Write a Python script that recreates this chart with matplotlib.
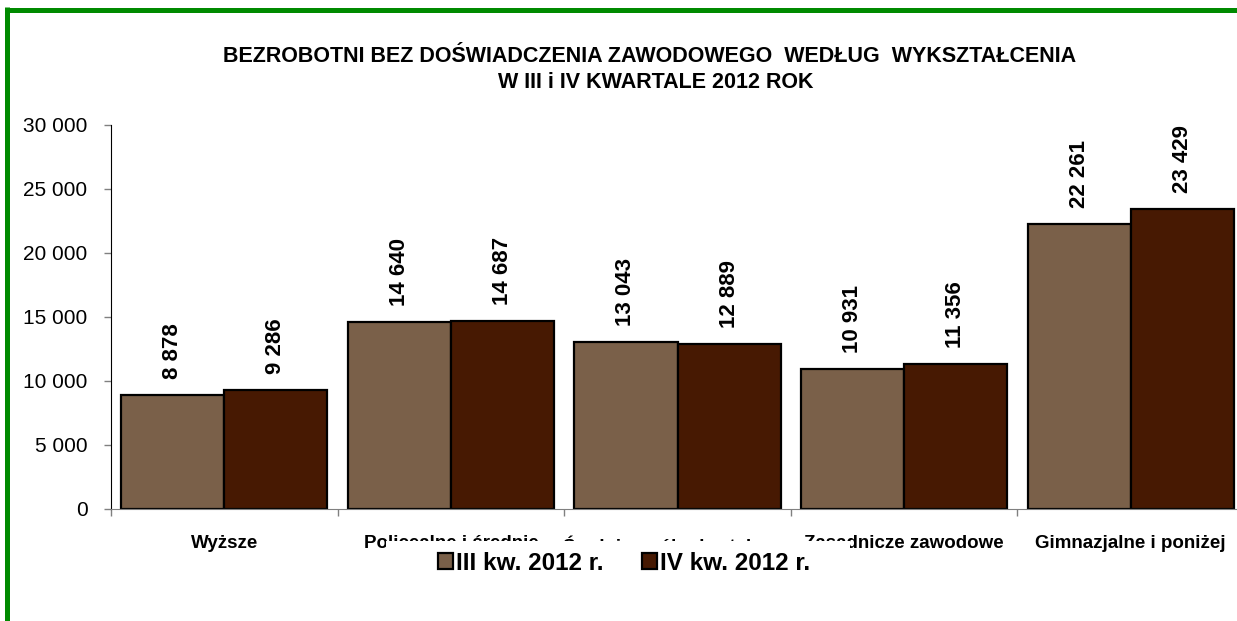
import matplotlib
matplotlib.use("Agg")
from matplotlib import pyplot as plt
from matplotlib.lines import Line2D
from matplotlib.patches import Rectangle
from matplotlib.ticker import FuncFormatter, FixedLocator
import numpy as np

plt.rcParams['font.family'] = ['Liberation Sans', 'DejaVu Sans']

categories = ["Wyższe", "Policealne i średnie", "Średnie ogólnokształcące",
              "Zasadnicze zawodowe", "Gimnazjalne i poniżej"]
q3_2012 = [8878, 14640, 13043, 10931, 22261]
q4_2012 = [9286, 14687, 12889, 11356, 23429]
series_names = ["III kw. 2012 r.", "IV kw. 2012 r."]
title_lines = ["BEZROBOTNI BEZ DOŚWIADCZENIA ZAWODOWEGO  WEDŁUG  WYKSZTAŁCENIA",
               "W III i IV KWARTALE 2012 ROK"]

C_Q3 = "#7a6049"
C_Q4 = "#471902"
GREEN = "#008a00"

W, H = 1237, 621
fig = plt.figure(figsize=(W / 100, H / 100), dpi=100)
fig.patch.set_facecolor("white")

# plot area (right edge runs slightly past the picture, as in the source)
ax = fig.add_axes([111 / W, (H - 509) / H, (1244 - 111) / W, (509 - 125) / H])

x = np.arange(len(categories))
w = 0.455
b1 = ax.bar(x - w / 2, q3_2012, w, color=C_Q3, edgecolor="black", linewidth=1.6, label=series_names[0])
b2 = ax.bar(x + w / 2, q4_2012, w, color=C_Q4, edgecolor="black", linewidth=1.6, label=series_names[1])

def fmt(v):
    return f"{int(v):,}".replace(",", " ")

for bars, vals in ((b1, q3_2012), (b2, q4_2012)):
    for r, v in zip(bars, vals):
        ax.annotate(fmt(v), (r.get_x() + r.get_width() / 2, v), xytext=(0, 11.5),
                    textcoords="offset points", rotation=90, ha="center", va="bottom",
                    fontsize=16, fontweight="bold")

ax.set_xlim(-0.5, len(categories) - 0.5)
ax.set_ylim(0, 30000)
ax.set_yticks(np.arange(0, 30001, 5000))
ax.yaxis.set_major_formatter(FuncFormatter(lambda v, p: fmt(v)))
ax.tick_params(axis="y", length=5, width=1, color="#808080", labelsize=15, pad=12)

ax.set_xticks(x)
ax.set_xticklabels(categories, fontsize=13.5, fontweight="bold")
ax.xaxis.set_minor_locator(FixedLocator(np.arange(-0.5, len(categories), 1.0)))
ax.tick_params(axis="x", which="major", length=0, pad=19)
ax.tick_params(axis="x", which="minor", length=5, width=1, color="#808080")

for s in ("top", "right"):
    ax.spines[s].set_visible(False)
ax.spines["left"].set_color("black")
ax.spines["bottom"].set_color("#808080")

# titles
fig.text(650 / W, 1 - 56 / H, title_lines[0], ha="center", va="center",
         fontsize=15.5, fontweight="bold")
fig.text(656 / W, 1 - 82 / H, title_lines[1], ha="center", va="center",
         fontsize=15.5, fontweight="bold")

# white legend box that hides part of the category labels
fig.patches.append(Rectangle((386 / W, 1 - 592 / H), (850 - 386) / W, 51 / H,
                             transform=fig.transFigure, facecolor="white",
                             edgecolor="none", zorder=3))
fig.legend(handles=[b1, b2], labels=series_names, loc="center",
           bbox_to_anchor=(624 / W, 1 - 563 / H), ncol=2, frameon=False,
           prop={"size": 17.5, "weight": "bold"}, handlelength=0.62, handleheight=0.62,
           handletextpad=0.1, columnspacing=1.6)

# green frame (top and left edges visible)
fig.add_artist(Line2D([5 / W, 1], [1 - 9.5 / H] * 2, transform=fig.transFigure,
                      color=GREEN, linewidth=3.6, solid_capstyle="butt"))
fig.add_artist(Line2D([7.5 / W] * 2, [0, 1 - 7 / H], transform=fig.transFigure,
                      color=GREEN, linewidth=3.6, solid_capstyle="butt"))

fig.savefig("out.png", dpi=100)
